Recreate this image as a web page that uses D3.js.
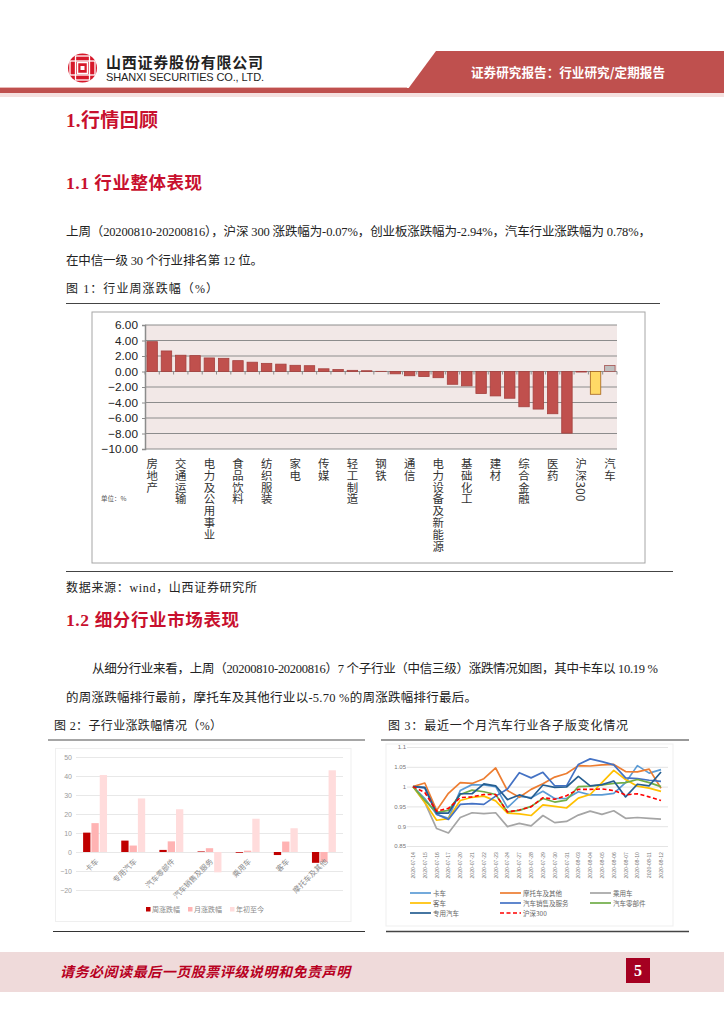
<!DOCTYPE html>
<html><head><meta charset="utf-8">
<script src="https://cdn.jsdelivr.net/npm/d3@7"></script>
<style>html,body{margin:0;padding:0;background:#fff}svg{display:block}</style></head>
<body><div id="c"></div>
<script>
// ---------- Figure 1
const industryLabels=["房地产","","交通运输","","电力及公用事业","","食品饮料","","纺织服装","","家电","","传媒","","轻工制造","","钢铁","","通信","","电力设备及新能源","","基础化工","","建材","","综合金融","","医药","","沪深300","","汽车"];
const industryWeekly=[3.85,2.65,2.1,2.05,1.75,1.7,1.4,1.2,1.05,0.95,0.8,0.75,0.35,0.25,0.15,0.1,0.02,-0.3,-0.55,-0.65,-0.8,-1.65,-1.85,-2.85,-3.15,-3.45,-4.55,-4.85,-5.45,-7.95,-0.07,-2.94,0.78];
const industryTicks=[6,4,2,0,-2,-4,-6,-8,-10];
// ---------- Figure 2
const subCategories=["卡车","专用汽车","汽车零部件","汽车销售及服务","乘用车","客车","摩托车及其他"];
const subSeriesNames=["周涨跌幅","月涨跌幅","年初至今"];
const subWeekly=[10.19,6,1.1,0.3,-0.4,-1.6,-5.7];
const subMonthly=[15.2,3.4,5.6,2,0.7,5.5,-5.3];
const subYtd=[40.5,28.2,22.5,-10.7,17.5,12.5,43];
const subTicks=[50,40,30,20,10,0,-10,-20];
// ---------- Figure 3
const dates=["2020-07-14","2020-07-15","2020-07-16","2020-07-17","2020-07-20","2020-07-21","2020-07-22","2020-07-23","2020-07-24","2020-07-27","2020-07-28","2020-07-29","2020-07-30","2020-07-31","2020-08-03","2020-08-04","2020-08-05","2020-08-06","2020-08-07","2020-08-10","2020-08-11","2020-08-12"];
const truck=[1,.97,.93,.92,.99,1.005,1.004,1.0,.947,.975,.972,.988,.97,.97,.987,.979,.979,.983,1.01,1.053,1.034,1.043];
const motorcycle=[1,1.009,.94,.983,1.01,1.008,1.02,1.047,.99,.973,.993,1.007,1.024,1.033,1.053,1.052,1.055,1.056,1.038,1.037,1.044,.996];
const passenger=[1,.96,.894,.883,.922,.934,.932,.934,.899,.907,.901,.927,.909,.912,.928,.938,.93,.939,.92,.922,.92,.918];
const bus=[1,.96,.915,.919,.965,.973,.976,.964,.933,.931,.927,.954,.95,.946,.971,.98,1.01,1.041,1.018,1.001,.996,.988];
const sales=[1,.997,.93,.917,.955,.957,.955,.976,.994,1.035,1.022,1.036,1.002,1.002,1.056,1.07,1.063,1.055,1.022,1.02,1.016,1.013];
const parts=[1,.965,.935,.94,.98,.991,.987,.98,.936,.94,.95,.97,.961,.966,1.0,1.001,1.004,1.008,1.01,1.018,1.01,1.0];
const special=[1,.998,.933,.933,.982,.982,1.007,1.002,.967,.979,.97,1.004,.998,.999,1.026,1.002,1.005,1.014,.974,1.006,1.002,1.037];
const hs300=[1,.985,.938,.945,.972,.974,.98,.98,.936,.941,.949,.972,.968,.977,.993,.993,.994,.99,.979,.982,.974,.965];
const lineNames=["卡车","摩托车及其他","乘用车","客车","汽车销售及服务","汽车零部件","专用汽车","沪深300"];
const lineSeries=[truck,motorcycle,passenger,bus,sales,parts,special,hs300];
const lineColors=["#5b9bd5","#ed7d31","#a5a5a5","#ffc000","#4472c4","#70ad47","#255e91","#ff0000"];
const lineTicks=[1.1,1.05,1,0.95,0.9,0.85];

const svg=d3.select("#c").append("svg").attr("width",724).attr("height",1024);
const CJK='"Noto Sans CJK SC",sans-serif', SER='"Liberation Serif","Noto Sans CJK SC",serif', SAN='"Liberation Sans",sans-serif';
function T(x,y,s,o={}){const t=svg.append("text").attr("x",x).attr("y",y).text(s)
  .attr("font-size",o.size||12.5).attr("fill",o.fill||"#222").attr("font-family",o.font||SER)
  .attr("font-weight",o.weight||400);
  if(o.len)t.attr("textLength",o.len).attr("lengthAdjust","spacing");
  if(o.italic)t.attr("font-style","italic");
  if(o.anchor)t.attr("text-anchor",o.anchor);
  return t;}
function R(x,y,w,h,f,s){return svg.append("rect").attr("x",x).attr("y",y).attr("width",w).attr("height",h).attr("fill",f).attr("stroke",s||"none");}
function L(x1,x2,y,c,w){svg.append("line").attr("x1",x1).attr("x2",x2).attr("y1",y).attr("y2",y).attr("stroke",c).attr("stroke-width",w||1);}

// header
R(0,87,407,1,"#e8b8b6");
R(0,88,724,5,"#bf504e");
R(0,93,724,4,"#f5e0df");
svg.append("path").attr("d","M405,93 L436,51 L724,51 L724,93 Z").attr("fill","#bf504e");
T(471,77,"证券研究报告：行业研究/定期报告",{size:12.6,fill:"#fff",font:CJK,weight:700,len:194});
// logo
svg.append("circle").attr("cx",82.5).attr("cy",68).attr("r",14.5).attr("fill","#d7182a");
R(70,61,25,14,"none","#fff").attr("stroke-width",1.3);
R(75.5,56,14,24,"none","#fff").attr("stroke-width",1.3);
R(77.5,62.5,10,11,"#d7182a","#fff").attr("stroke-width",1.5);
R(80.5,66,4,4,"#fff");
T(106,68,"山西证券股份有限公司",{size:15,font:CJK,weight:700,fill:"#222",len:157});
T(106,81,"SHANXI SECURITIES CO., LTD.",{size:11,font:SAN,fill:"#222",len:158});

// headings and paragraphs
T(66,127,"1.行情回顾",{size:19,fill:"#c8102e",weight:700,len:92});
T(66,189,"1.1 行业整体表现",{size:17.5,fill:"#c8102e",weight:700,len:136});
T(66,236,"上周（20200810-20200816），沪深 300 涨跌幅为-0.07%，创业板涨跌幅为-2.94%，汽车行业涨跌幅为 0.78%，",{size:12.5,len:585});
T(66,265,"在中信一级 30 个行业排名第 12 位。",{size:12.5,len:197});
T(66,293,"图 1：行业周涨跌幅（%）",{size:12,len:152});
L(66,660,303.5,"#444",1);
L(66,673,571.5,"#444",1);
T(66,592,"数据来源：wind，山西证券研究所",{size:12,len:191});
T(66,626,"1.2 细分行业市场表现",{size:17.5,fill:"#c8102e",weight:700,len:173});
T(92,673,"从细分行业来看，上周（20200810-20200816）7 个子行业（中信三级）涨跌情况如图，其中卡车以 10.19 %",{size:12.5,len:566});
T(66,702,"的周涨跌幅排行最前，摩托车及其他行业以-5.70 %的周涨跌幅排行最后。",{size:12.5,len:411});
T(54,730,"图 2：子行业涨跌幅情况（%）",{size:12,len:168});
T(388,730,"图 3：最近一个月汽车行业各子版变化情况",{size:12,len:240});
L(48,365,740,"#888",1.5);L(381,689,740,"#777",1.5);
L(53,365,931.5,"#333",1);L(386,689,931.5,"#444",1.5);

// footer
R(0,952,724,40,"#efdada");
T(60,977,"请务必阅读最后一页股票评级说明和免责声明",{size:14,font:CJK,weight:700,italic:true,fill:"#b8001f",len:290});
R(626,958,24,25,"#a50021");
T(638,976,"5",{size:16,weight:700,fill:"#fff",anchor:"middle"});

// ---- Figure 1
R(92,312,553,251,"#fff","#a6a6a6");
const f1=svg.append("g");
const x1=d3.scaleBand().domain(d3.range(industryWeekly.length)).range([145,617]).paddingInner(0.27).paddingOuter(0.135);
const y1=d3.scaleLinear().domain([-10,6]).range([449,325]);
f1.append("rect").attr("x",145).attr("y",y1(6)).attr("width",472).attr("height",y1(-10)-y1(6)).attr("fill","#f2e8e7");
f1.selectAll(".g").data(industryTicks).join("line").attr("x1",145).attr("x2",617).attr("y1",d=>y1(d)).attr("y2",d=>y1(d)).attr("stroke","#8c8c8c").attr("stroke-width",1);
const barColor=i=>i==31?"#ffd966":i==32?"#bfbfbf":"#c0504d";
const barStroke=i=>i==31?"#a5631c":i==32?"#a5514f":"#a5403e";
f1.selectAll(".b").data(industryWeekly).join("rect")
 .attr("x",(d,i)=>x1(i)).attr("width",x1.bandwidth())
 .attr("y",d=>y1(Math.max(0,d))).attr("height",d=>Math.abs(y1(d)-y1(0)))
 .attr("fill",(d,i)=>barColor(i)).attr("stroke",(d,i)=>barStroke(i)).attr("stroke-width",0.8);
f1.selectAll(".t").data(d3.range(industryWeekly.length+1)).join("line")
 .attr("x1",i=>145+i*x1.step()).attr("x2",i=>145+i*x1.step()).attr("y1",y1(0)).attr("y2",y1(0)+3).attr("stroke","#8c8c8c");
const ax1=f1.append("g").attr("transform","translate(145,0)").call(d3.axisLeft(y1).tickValues(industryTicks).tickFormat(d3.format(".2f")).tickSize(3).tickPadding(4));
ax1.select(".domain").attr("stroke","#8c8c8c").attr("stroke-width",1.5);
ax1.selectAll("line").attr("stroke","#8c8c8c");
ax1.selectAll("text").attr("font-family",SAN).attr("font-size",11.8).attr("fill","#222");
f1.selectAll(".l").data(industryLabels).join("text")
 .attr("transform",(d,i)=>`translate(${x1(i)+x1.bandwidth()/2},458)`)
 .style("writing-mode","vertical-rl").attr("font-family",CJK).attr("font-size",11.4).attr("letter-spacing",0.4).attr("fill","#333")
 .text(d=>d);
T(101,501,"单位：%",{size:6.5,font:CJK,fill:"#555"});

// ---- Figure 2
R(55.5,748.5,295.5,173,"#fff","#efefef");
const f2=svg.append("g");
const x2=d3.scaleBand().domain(subCategories).range([76,343]);
const y2=d3.scaleLinear().domain([-20,50]).range([890,757]);
const gr2=f2.append("g").attr("transform","translate(76,0)").call(d3.axisLeft(y2).tickValues(subTicks).tickSize(-267).tickPadding(4));
gr2.select(".domain").remove();
gr2.selectAll("line").attr("stroke","#e8e8e8");
gr2.selectAll("text").attr("font-size",7).attr("fill","#9a9a9a").attr("font-family",SAN);
const sub=[subWeekly,subMonthly,subYtd], subColors=["#c00000","#ffb3b3","#ffdcdc"];
const x2b=d3.scaleBand().domain([0,1,2]).range([0,x2.bandwidth()]).paddingInner(0.12).paddingOuter(0.855);
sub.forEach((arr,k)=>{
 f2.selectAll(".s"+k).data(arr).join("rect")
  .attr("x",(d,i)=>x2(subCategories[i])+x2b(k)).attr("width",x2b.bandwidth())
  .attr("y",d=>y2(Math.max(0,d))).attr("height",d=>Math.abs(y2(d)-y2(0))).attr("fill",subColors[k]);
});
f2.selectAll(".xl").data(subCategories).join("text")
 .attr("transform",d=>`translate(${x2(d)+x2.bandwidth()/2+4},${y2(0)+10}) rotate(-45)`)
 .attr("text-anchor","end").attr("font-family",CJK).attr("font-size",7.5).attr("fill","#8a8a8a").text(d=>d);
subSeriesNames.forEach((n,k)=>{
 const lx=146+k*42;
 R(lx,907,4.5,4.5,subColors[k]);
 T(lx+6,912,n,{size:7,font:CJK,fill:"#8a8a8a"});
});

// ---- Figure 3
R(386,744,287,182,"#fff","#efefef");
const f3=svg.append("g");
const x3=d3.scalePoint().domain(dates).range([413,661]);
const y3=d3.scaleLinear().domain([0.85,1.1]).range([846,747]);
const gr3=f3.append("g").attr("transform","translate(407,0)").call(d3.axisLeft(y3).tickValues(lineTicks).tickSize(-261).tickPadding(1).tickFormat(d=>d3.format("")(d)));
gr3.select(".domain").remove();
gr3.selectAll("line").attr("stroke","#e4e4e4");
gr3.selectAll("text").attr("font-size",6).attr("fill","#777").attr("font-family",SAN);
f3.selectAll(".d").data(dates).join("text")
 .attr("transform",d=>`translate(${x3(d)+2},852) rotate(-90)`).attr("text-anchor","end")
 .attr("font-size",5.2).attr("fill","#777").attr("font-family",SAN).text(d=>d);
const ln=d3.line().x((d,i)=>x3(dates[i])).y(d=>y3(d));
lineSeries.forEach((arr,k)=>{
 f3.append("path").attr("d",ln(arr)).attr("fill","none").attr("stroke",lineColors[k]).attr("stroke-width",k==7?1.6:1.7)
  .attr("stroke-dasharray",k==7?"4,2.5":null).attr("stroke-linejoin","round");
});
const colX=[410,500,590];
lineNames.forEach((n,k)=>{
 const c=k%3,r=Math.floor(k/3),lx=colX[c],ly=893+r*10;
 svg.append("line").attr("x1",lx).attr("x2",lx+21).attr("y1",ly).attr("y2",ly).attr("stroke",lineColors[k]).attr("stroke-width",1.7).attr("stroke-dasharray",k==7?"4,2.5":null);
 T(lx+23,ly+2.5,n,{size:6.5,font:CJK,fill:"#666"});
});
</script></body></html>
